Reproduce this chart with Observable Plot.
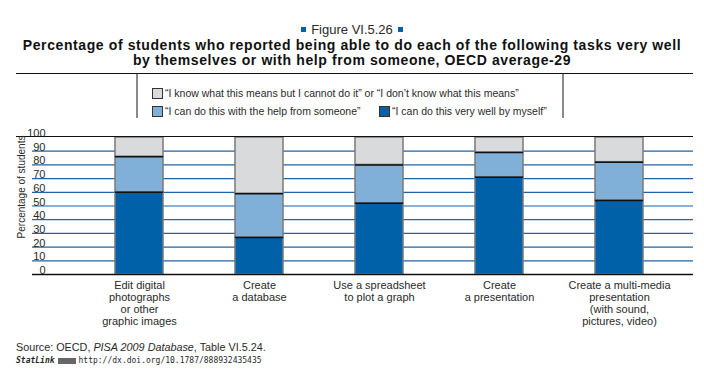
<!DOCTYPE html>
<html><head><meta charset="utf-8">
<script src="https://cdn.jsdelivr.net/npm/d3@7"></script>
<script src="https://cdn.jsdelivr.net/npm/@observablehq/plot@0.6"></script>
<style>
body{margin:0;background:#fff;}
#wrap{position:relative;width:704px;height:390px;overflow:hidden;font-family:"Liberation Sans Narrow","Arial Narrow","Liberation Sans",sans-serif;color:#2a2a2a;}
.abs{position:absolute;white-space:nowrap;}
#fig{top:22px;left:0;width:704px;text-align:center;font-size:13px;line-height:16px;}
#fig .sq{display:inline-block;width:5px;height:5px;background:#0060a8;vertical-align:middle;margin:0 5px;position:relative;top:-1px;}
#title{top:38px;left:0;width:704px;text-align:center;font-family:"Liberation Sans",Arial,sans-serif;font-weight:bold;font-size:14px;letter-spacing:0.6px;line-height:15px;color:#111;}
.hline{position:absolute;left:16px;width:677px;height:0;border-top:1.5px solid #111;}
#legbox{position:absolute;left:136px;top:74px;width:424px;height:44px;border-left:2px solid #8a8a8a;border-right:2px solid #8a8a8a;}
.leg{font-size:10.5px;line-height:12px;}
.sw{position:absolute;width:9px;height:9px;border:1px solid #333;}
#ylab{left:21px;top:187px;font-size:10px;transform:translate(-50%,-50%) rotate(-90deg);}
#src{left:16px;top:341px;font-size:10.8px;}
#stat{left:16px;top:356px;font-size:8px;}
#stat b{font-family:"DejaVu Sans Mono",monospace;font-style:italic;font-size:8px;}
#stat .ico{display:inline-block;width:18px;height:6px;background:#666;margin:0 3px;vertical-align:middle;}
#stat .url{font-family:"DejaVu Sans Mono",monospace;font-size:8px;}
#chart{position:absolute;left:0;top:120px;}
</style></head><body><div id="wrap">
<div id="fig" class="abs"><span class="sq"></span>Figure VI.5.26<span class="sq"></span></div>
<div id="title" class="abs">Percentage of students who reported being able to do each of the following tasks very well<br>by themselves or with help from someone, OECD average-29</div>
<div class="hline" style="top:73px"></div>
<div id="legbox"></div>
<div id="legend"></div>
<div id="chart"></div>
<div class="hline" style="top:136px"></div>
<div id="ylab" class="abs">Percentage of students</div>
<div id="src" class="abs">Source: OECD, <i>PISA 2009 Database</i>, Table VI.5.24.</div>
<div id="stat" class="abs"><b>StatLink</b><span class="ico"></span><span class="url">http://dx.doi.org/10.1787/888932435435</span></div>
</div>
<script>
const tasks = [
  "Edit digital\nphotographs\nor other\ngraphic images",
  "Create\na database",
  "Use a spreadsheet\nto plot a graph",
  "Create\na presentation",
  "Create a multi-media\npresentation\n(with sound,\npictures, video)"
];
const categories = [
  "“I can do this very well by myself”",
  "“I can do this with the help from someone”",
  "“I know what this means but I cannot do it” or “I don’t know what this means”"
];
const colors = ["#0061a9", "#80b0d7", "#d9dadb"];
const byMyself = [60, 27, 52, 71, 54];
const withHelp = [26, 32, 28, 18, 28];
const cannotDo = [14, 41, 20, 11, 18];
const yTicks = [0, 10, 20, 30, 40, 50, 60, 70, 80, 90, 100];

const series = [byMyself, withHelp, cannotDo];
const rows = [];
tasks.forEach((t, i) => {
  let base = 0;
  series.forEach((s, k) => {
    rows.push({task: t, cat: categories[k], y1: base, y2: base + s[i], k});
    base += s[i];
  });
});

// Legend (HTML)
const legend = document.getElementById("legend");
const legItems = [
  {k: 2, x: 152, y: 93},
  {k: 1, x: 152, y: 111},
  {k: 0, x: 379, y: 111}
];
legItems.forEach(({k, x, y}) => {
  const sw = document.createElement("div");
  sw.className = "sw";
  sw.style.left = x + "px"; sw.style.top = (y - 5) + "px";
  sw.style.background = colors[k];
  legend.appendChild(sw);
  const tx = document.createElement("div");
  tx.className = "abs leg";
  tx.style.left = (x + 13) + "px"; tx.style.top = (y - 6) + "px";
  tx.textContent = categories[k];
  legend.appendChild(tx);
});

const chart = Plot.plot({
  width: 704,
  height: 220,
  marginTop: 17,
  marginBottom: 66,
  marginLeft: 32,
  marginRight: 11,
  style: {fontFamily: "'Liberation Sans Narrow','Arial Narrow','Liberation Sans',sans-serif", fontSize: "11px", color: "#2a2a2a", background: "transparent", overflow: "visible"},
  x: {domain: tasks, paddingInner: 0.6, paddingOuter: 0.3, insetLeft: 47, insetRight: 14, label: null},
  y: {domain: [0, 100], label: null},
  color: {domain: categories, range: colors},
  marks: [
    Plot.ruleY(yTicks.filter(v => v > 0 && v < 100), {stroke: "#1f63a8", strokeWidth: 1.2}),
    Plot.barY(rows, {x: "task", y1: "y1", y2: "y2", fill: "cat", stroke: "#7a7a7a", strokeWidth: 1.5}),
    Plot.tickY(rows.filter(d => d.k < 2), {x: "task", y: "y2", stroke: "#111", strokeWidth: 1.5}),
    Plot.ruleY([0], {stroke: "#111", strokeWidth: 1.5}),
    Plot.axisY(yTicks, {tickSize: 0, tickPadding: 0, dx: 13, dy: -4, fontSize: 11, label: null}),
    Plot.axisX({tickSize: 0, tickPadding: 6, lineHeight: 1.1, fontSize: 11, label: null})
  ]
});
document.getElementById("chart").appendChild(chart);
</script>
</body></html>
